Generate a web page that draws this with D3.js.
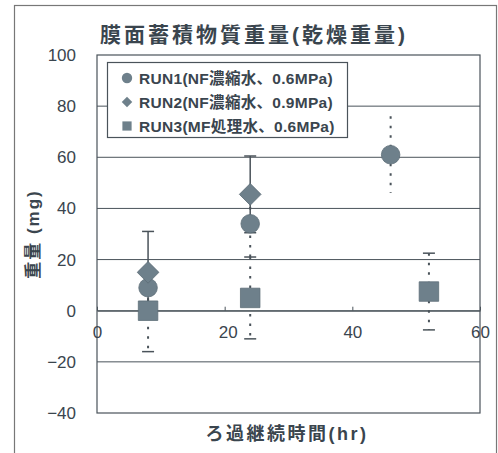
<!DOCTYPE html>
<html>
<head>
<meta charset="utf-8">
<script src="https://cdn.jsdelivr.net/npm/d3@7"></script>
<style>
  body { margin: 0; background: #fff; }
  text { font-family: "Liberation Sans", "Noto Sans CJK JP", sans-serif; fill: #3a454e; }
</style>
</head>
<body>
<div id="container"></div>
<script>
let w = 498;
let h = 453;

// data
let titleText = "膜面蓄積物質重量(乾燥重量)";
let xTitle = "ろ過継続時間(hr)";
let yTitle = "重量 (mg)";
let xTicks = [0, 20, 40, 60];
let yTicks = [-40, -20, 0, 20, 40, 60, 80, 100];

let seriesNames = ["RUN1(NF濃縮水、0.6MPa)", "RUN2(NF濃縮水、0.9MPa)", "RUN3(MF処理水、0.6MPa)"];

let run1Hours = [8, 24, 46];
let run1Weight = [9, 34, 61];
let run1Err = [7, 14, 15];

let run2Hours = [8, 24];
let run2Weight = [15, 45.5];
let run2Err = [16, 15];

let run3Hours = [8, 24, 52];
let run3Weight = [0, 5, 7.5];
let run3Err = [16, 16, 15];

let markColor = "#6e808b";
let lineColor = "#4a535a";

let viz = d3.select("#container")
  .append("svg")
    .attr("width", w)
    .attr("height", h)
;

// outer frame
viz.append("rect")
    .attr("x", 14.5).attr("y", 5.5)
    .attr("width", 482).attr("height", 460)
    .attr("fill", "none")
    .attr("stroke", "#777")
    .attr("stroke-width", 1.2)
;

let xScale = d3.scaleLinear().domain([0, 60]).range([97, 480]);
let yScale = d3.scaleLinear().domain([-40, 100]).range([413, 55]);

// gridlines
viz.append("g").attr("class", "grid")
  .selectAll("line").data(yTicks.filter(d => d != -40 && d != 100)).enter()
  .append("line")
    .attr("x1", xScale(0)).attr("x2", xScale(60))
    .attr("y1", d => yScale(d)).attr("y2", d => yScale(d))
    .attr("stroke", lineColor)
    .attr("stroke-width", 1)
;

// plot frame
viz.append("rect")
    .attr("x", xScale(0)).attr("y", yScale(100))
    .attr("width", xScale(60) - xScale(0))
    .attr("height", yScale(-40) - yScale(100))
    .attr("fill", "none")
    .attr("stroke", lineColor)
    .attr("stroke-width", 1.2)
;

// Y axis
let yAxis = d3.axisLeft(yScale).tickValues(yTicks).tickSize(0).tickPadding(21);
let yAxisGroup = viz.append("g").attr("class", "yaxis")
    .attr("transform", "translate(" + xScale(0) + ",0)")
    .call(yAxis);
yAxisGroup.select(".domain").remove();
yAxisGroup.selectAll("text")
    .style("font-size", "17px")
    .text(d => d < 0 ? "\u2212" + Math.abs(d) : d);

// X axis sits on the zero line
let xAxis = d3.axisBottom(xScale).tickValues(xTicks).tickSizeInner(-4).tickSizeOuter(0).tickPadding(15);
let xAxisGroup = viz.append("g").attr("class", "xaxis")
    .attr("transform", "translate(0," + yScale(0) + ")")
    .call(xAxis);
xAxisGroup.select(".domain").attr("stroke", lineColor);
xAxisGroup.selectAll("line").attr("stroke", lineColor);
xAxisGroup.selectAll("text").style("font-size", "17px").attr("dx", d => d == 20 ? 3 : 0);

// titles
viz.append("text")
    .attr("x", 254).attr("y", 42)
    .attr("text-anchor", "middle")
    .style("font-size", "21px")
    .style("letter-spacing", "3px")
    .style("font-weight", "bold")
    .text(titleText);

viz.append("text")
    .attr("x", 287).attr("y", 440)
    .attr("text-anchor", "middle")
    .style("font-size", "18px")
    .style("letter-spacing", "2.5px")
    .style("font-weight", "bold")
    .text(xTitle);

viz.append("text")
    .attr("transform", "translate(39,234) rotate(-90)")
    .attr("text-anchor", "middle")
    .style("font-size", "17px")
    .style("letter-spacing", "2px")
    .style("font-weight", "bold")
    .text(yTitle);

// error bars
function errorBars(hours, vals, errs, dashed, caps) {
  let g = viz.append("g");
  let pts = hours.map((d, i) => ({x: d, v: vals[i], e: errs[i]}));
  g.selectAll(".bar").data(pts).enter()
    .append("line")
      .attr("x1", d => xScale(d.x)).attr("x2", d => xScale(d.x))
      .attr("y1", d => yScale(d.v + d.e)).attr("y2", d => yScale(d.v - d.e))
      .attr("stroke", lineColor)
      .attr("stroke-width", dashed ? 2 : 1.5)
      .attr("stroke-dasharray", dashed ? "2.5,7" : null);
  if (caps) {
    g.selectAll(".capTop").data(pts).enter()
      .append("line")
        .attr("x1", d => xScale(d.x) - 6).attr("x2", d => xScale(d.x) + 6)
        .attr("y1", d => yScale(d.v + d.e)).attr("y2", d => yScale(d.v + d.e))
        .attr("stroke", lineColor).attr("stroke-width", 1.5);
    g.selectAll(".capBot").data(pts).enter()
      .append("line")
        .attr("x1", d => xScale(d.x) - 6).attr("x2", d => xScale(d.x) + 6)
        .attr("y1", d => yScale(d.v - d.e)).attr("y2", d => yScale(d.v - d.e))
        .attr("stroke", lineColor).attr("stroke-width", 1.5);
  }
}

errorBars(run1Hours, run1Weight, run1Err, true, false);
errorBars(run3Hours, run3Weight, run3Err, true, true);
errorBars(run2Hours, run2Weight, run2Err, false, true);

// markers
let circleSym = d3.symbol().type(d3.symbolCircle);
let squareSym = d3.symbol().type(d3.symbolSquare);

function markers(hours, vals, kind, size) {
  viz.append("g").selectAll("path").data(hours).enter()
    .append("path")
      .attr("d", kind == "circle" ? circleSym.size(size)() : squareSym.size(size)())
      .attr("transform", (d, i) => "translate(" + xScale(d) + "," + yScale(vals[i]) + ")" + (kind == "diamond" ? " rotate(45)" : ""))
      .attr("fill", markColor)
      .attr("stroke", "#5d6d77")
      .attr("stroke-width", 0.8);
}

markers(run3Hours, run3Weight, "square", 380);
markers(run1Hours, run1Weight, "circle", 270);
markers(run2Hours, run2Weight, "diamond", 235);

// legend
let legend = viz.append("g").attr("class", "legend");
legend.append("rect")
    .attr("x", 107.5).attr("y", 62.5)
    .attr("width", 240).attr("height", 75)
    .attr("fill", "#fff")
    .attr("stroke", lineColor)
    .attr("stroke-width", 1.2);

let legendKinds = ["circle", "diamond", "square"];
let legendRows = legend.selectAll(".row").data(seriesNames).enter()
  .append("g")
    .attr("class", "row")
    .attr("transform", (d, i) => "translate(127," + (78 + i * 24) + ")");

legendRows.append("path")
    .attr("d", (d, i) => legendKinds[i] == "circle" ? circleSym.size(85)() : squareSym.size(legendKinds[i] == "diamond" ? 55 : 85)())
    .attr("transform", (d, i) => legendKinds[i] == "diamond" ? "rotate(45)" : null)
    .attr("fill", markColor);

legendRows.append("text")
    .attr("x", 12).attr("dy", "0.36em")
    .style("font-size", "15.5px")
    .style("letter-spacing", "0.3px")
    .style("font-weight", "bold")
    .text(d => d);
</script>
</body>
</html>
